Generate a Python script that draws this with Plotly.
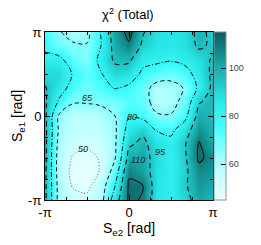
import numpy as np
import plotly.graph_objects as go

pi = np.pi

# grid (radians): 13 columns for S_e2 (x), 13 rows for S_e1 (y), from -pi to pi
se2 = np.linspace(-pi, pi, 13)
se1 = np.linspace(-pi, pi, 13)

# chi^2 values, rows from S_e1 = -pi (bottom) to +pi (top)
chi2 = [
    [98, 60, 54, 53, 60, 88, 112, 109, 86, 84, 90, 101, 97],
    [98, 60, 49, 47, 58, 80, 112, 110, 87, 83, 93, 104, 100],
    [98, 58, 47, 45, 51, 72, 108, 102, 88, 83, 92, 106, 104],
    [99, 58, 49, 47, 51, 64, 100, 101, 89, 82, 93, 112, 106],
    [99, 60, 53, 52, 54, 63, 93, 98, 88, 84, 94, 111, 100],
    [99, 63, 56, 55, 57, 63, 86, 92, 79, 77, 88, 105, 98],
    [98, 63, 58, 57, 60, 65, 79, 76, 67, 66, 76, 100, 97],
    [97, 78, 66, 66, 67, 68, 73, 72, 58, 60, 70, 94, 99],
    [96, 86, 75, 70, 74, 81, 77, 70, 60, 60, 66, 83, 98],
    [90, 90, 79, 72, 79, 90, 88, 77, 72, 70, 74, 86, 98],
    [84, 84, 72, 67, 85, 97, 97, 84, 83, 81, 84, 88, 97],
    [77, 70, 67, 66, 80, 100, 108, 92, 87, 86, 88, 97, 93],
    [76, 66, 60, 61, 81, 102, 114, 96, 88, 87, 89, 98, 92],
]

levels = [50, 65, 80, 95, 110]
level_labels = ["50", "65", "80", "95", "110"]
# label anchor points (radians)
label_x = [-1.72, -1.57, 0.11, 1.16, 0.34]
label_y = [-1.23, 0.67, -0.04, -1.35, -1.65]

tick_vals = [-pi, 0, pi]
tick_text = ["-π", "0", "π"]
minor_vals = [k * pi / 4 for k in range(-4, 5)]
cbar_ticks = [60, 80, 100]

FONT = "Liberation Sans, Arial, sans-serif"

colorscale = [
    [0.0, "#ecffff"],
    [0.2, "#b4ffff"],
    [0.45, "#40fdfd"],
    [0.6, "#28e6e6"],
    [0.8, "#18a8a8"],
    [1.0, "#0c5c5c"],
]

fig = go.Figure()
fig.add_trace(go.Heatmap(
    z=chi2, x=se2, y=se1, zsmooth="best", colorscale=colorscale,
    zmin=45, zmax=115, hoverinfo="skip",
    colorbar=dict(
        thickness=12, len=1, lenmode="fraction", x=1.005, xanchor="left",
        y=0.5, yanchor="middle", outlinecolor="#909090", outlinewidth=1,
        ticks="inside", ticklen=5, tickcolor="#000", tickvals=cbar_ticks,
        tickfont=dict(size=9, color="#444", family=FONT), xpad=0, ypad=0,
    ),
))

styles = {
    50: dict(color="#6a6a6a", dash="1px,2px", width=1),
    65: dict(color="#111", dash="4px,3px", width=1),
    80: dict(color="#111", dash="5px,2px,1px,2px", width=1),
    95: dict(color="#111", dash="5px,4px", width=1.1),
    110: dict(color="#111", dash="solid", width=1.1),
}
for lvl in levels:
    st = styles[lvl]
    fig.add_trace(go.Contour(
        z=chi2, x=se2, y=se1, showscale=False, hoverinfo="skip",
        contours=dict(start=lvl, end=lvl, size=1, coloring="none"),
        line=dict(color=st["color"], dash=st["dash"], width=st["width"], smoothing=1.0),
    ))

for t, lx, ly in zip(level_labels, label_x, label_y):
    fig.add_annotation(x=lx, y=ly, text=t, showarrow=False,
                       font=dict(size=9, color="#222", family=FONT, style="italic"))

axis_common = dict(
    range=[-pi, pi], tickvals=tick_vals, ticktext=tick_text, ticks="inside",
    ticklen=5, tickcolor="#000", showline=True, linecolor="#000", linewidth=1,
    mirror="ticks", showgrid=False, zeroline=False, automargin=False,
    tickfont=dict(size=13, color="#000", family=FONT),
    minor=dict(tickvals=minor_vals, ticks="inside", ticklen=3, tickcolor="#000"),
)
fig.update_xaxes(**axis_common, title=dict(text="S<sub>e2</sub> [rad]",
                 font=dict(size=14, family=FONT, color="#000"), standoff=4))
fig.update_yaxes(**axis_common, title=dict(text="S<sub>e1</sub> [rad]",
                 font=dict(size=14, family=FONT, color="#000"), standoff=2))

fig.update_layout(
    width=261, height=245,
    margin=dict(l=45, r=48, t=32, b=45, autoexpand=False),
    paper_bgcolor="white", plot_bgcolor="white",
    showlegend=False,
    title=dict(text="χ<sup>2</sup> (Total)", x=0.49, xanchor="center",
               y=0.94, yanchor="middle",
               font=dict(size=13, family=FONT, color="#000")),
)

fig.write_html("out.html", config={"displayModeBar": False},
               post_script="document.body.style.margin='0';document.body.style.overflow='hidden';")
